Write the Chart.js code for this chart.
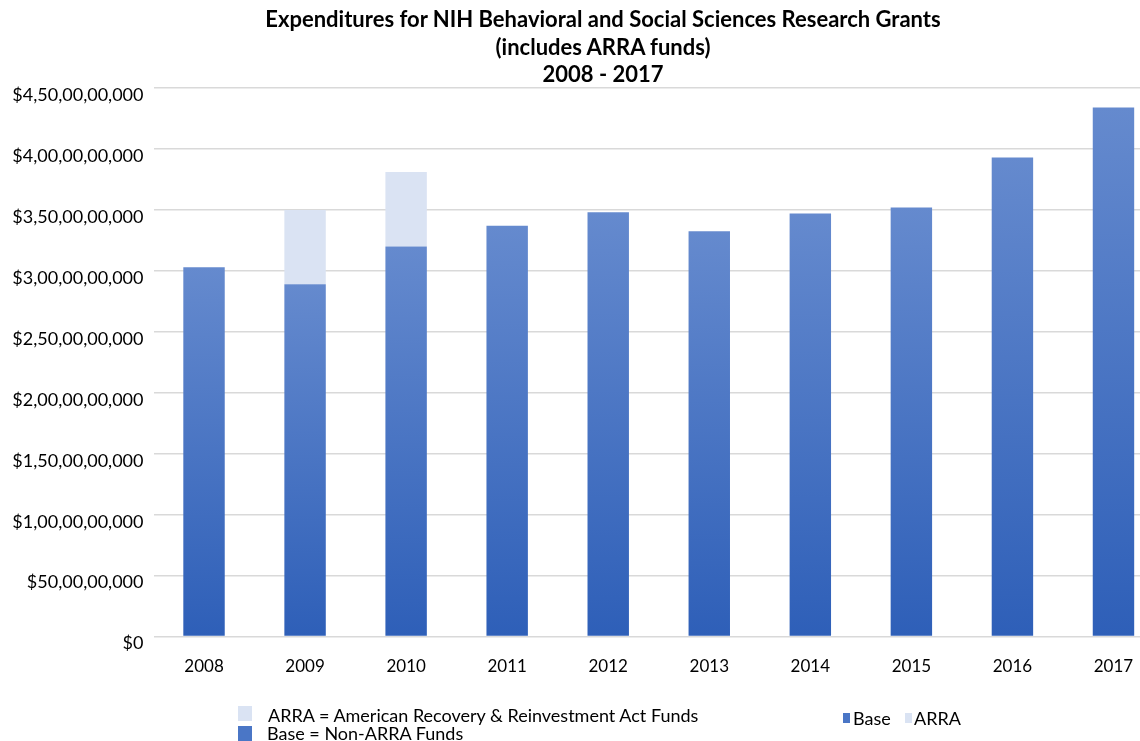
<!DOCTYPE html>
<html>
<head>
<meta charset="utf-8">
<script src="https://cdn.jsdelivr.net/npm/chart.js@4"></script>
<style>
    body { margin: 0; overflow: hidden; background: #fff; font-family: Lato, sans-serif; }
    #wrap { position: relative; width: 1140px; height: 741px; overflow: hidden; }
    #titulo { position: absolute; left: 0; top: 5px; width: 1206px; text-align: center;
        font-weight: bold; font-size: 22px; line-height: 27.5px; color: #000; }
    .caja { position: absolute; width: 14px; height: 15px; }
    .texto { position: absolute; font-size: 18px; color: #000; white-space: nowrap; line-height: 20px; }
    canvas { position: absolute; left: 0; top: 0; }
</style>
</head>
<body>
<div id="wrap">
    <canvas id="grafico" width="1164" height="741"></canvas>
    <div id="titulo">Expenditures for NIH Behavioral and Social Sciences Research Grants<br>(includes ARRA funds)<br>2008 - 2017</div>

    <div class="caja" style="left:238px; top:706px; background:#dae3f3"></div>
    <div class="texto" style="left:268px; top:705px">ARRA = American Recovery &amp; Reinvestment Act Funds</div>
    <div class="caja" style="left:238px; top:726px; background:#4a76c6"></div>
    <div class="texto" style="left:267px; top:723px">Base = Non-ARRA Funds</div>

    <div class="caja" style="left:843px; top:713px; width:7px; height:10px; background:#4a76c6"></div>
    <div class="texto" style="left:853px; top:708px">Base</div>
    <div class="caja" style="left:905px; top:713px; width:7px; height:10px; background:#dae3f3"></div>
    <div class="texto" style="left:914px; top:708px">ARRA</div>
</div>

<script>
const years = ['2008', '2009', '2010', '2011', '2012', '2013', '2014', '2015', '2016', '2017']
const baseFunds = [3.03e9, 2.89e9, 3.20e9, 3.37e9, 3.48e9, 3.325e9, 3.47e9, 3.52e9, 3.93e9, 4.34e9]
const arraFunds = [null, 0.61e9, 0.61e9, null, null, null, null, null, null, null]

// formato con agrupacion india: 4,50,00,00,000
function formatoIndio(valor) {
    const s = String(Math.round(valor))
    if (s.length <= 3) return '$' + s
    const ultimos = s.slice(-3)
    let resto = s.slice(0, -3)
    const grupos = []
    while (resto.length > 2) {
        grupos.unshift(resto.slice(-2))
        resto = resto.slice(0, -2)
    }
    if (resto.length) grupos.unshift(resto)
    return '$' + grupos.join(',') + ',' + ultimos
}

function degradadoBase(context) {
    const chart = context.chart
    const { chartArea, scales } = chart
    if (!chartArea || !scales.y) return '#4a76c6'
    const v = context.parsed ? context.parsed.y : null
    if (v == null) return '#4a76c6'
    const top = scales.y.getPixelForValue(v)
    const bottom = scales.y.getPixelForValue(0)
    if (!isFinite(top) || !isFinite(bottom)) return '#4a76c6'
    const g = chart.ctx.createLinearGradient(0, top, 0, bottom)
    g.addColorStop(0, '#658ace')
    g.addColorStop(1, '#2e5fb8')
    return g
}

const ctx = document.getElementById('grafico').getContext('2d')
new Chart(ctx, {
    type: 'bar',
    data: {
        labels: years,
        datasets: [{
            label: 'Base',
            data: baseFunds,
            backgroundColor: degradadoBase,
            borderWidth: 0
        }, {
            label: 'ARRA',
            data: arraFunds,
            backgroundColor: '#dae3f3',
            borderWidth: 0
        }]
    },
    options: {
        responsive: false,
        animation: false,
        layout: {
            padding: { top: 88, bottom: 44, left: 0, right: 0 }
        },
        datasets: {
            bar: {
                categoryPercentage: 1,
                barPercentage: 0.41
            }
        },
        plugins: {
            legend: { display: false },
            title: { display: false },
            tooltip: { enabled: false }
        },
        scales: {
            x: {
                stacked: true,
                grid: { display: false, drawTicks: false },
                border: { display: false },
                ticks: {
                    color: '#000',
                    padding: 20,
                    font: { family: 'Lato', size: 17 }
                }
            },
            y: {
                stacked: true,
                min: 0,
                max: 4.5e9,
                afterFit: function (scale) {
                    scale.width = 153.5
                },
                grid: {
                    color: '#d9d9d9',
                    lineWidth: 1.5,
                    drawTicks: false
                },
                border: { display: false },
                ticks: {
                    stepSize: 5e8,
                    color: '#000',
                    padding: 10,
                    labelOffset: 7,
                    font: { family: 'Lato', size: 18 },
                    callback: value => formatoIndio(value)
                }
            }
        }
    }
})
</script>
</body>
</html>
